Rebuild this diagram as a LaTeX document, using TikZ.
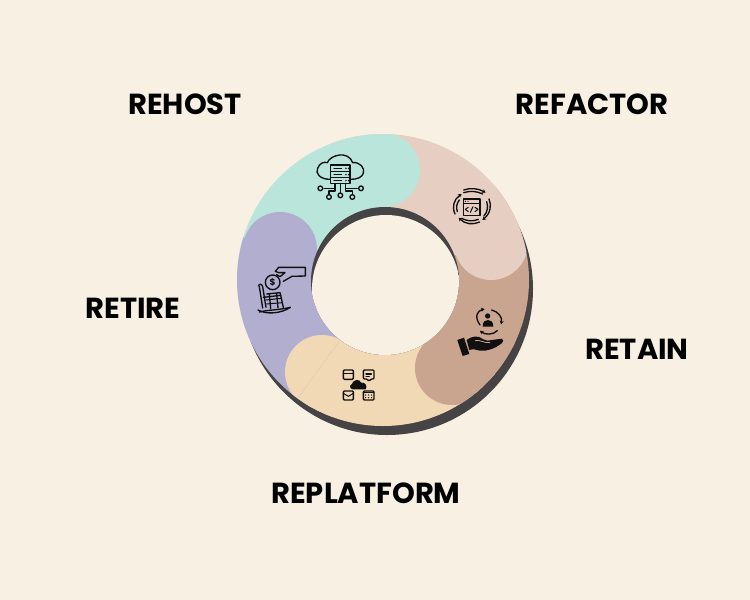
\documentclass[tikz,border=0pt]{standalone}
\usepackage{fontspec}
\setmainfont{Poppins}
\usetikzlibrary{arrows.meta}
\definecolor{bgc}{HTML}{F7F0E3}
\definecolor{tealc}{HTML}{BAE5DB}
\definecolor{creamc}{HTML}{E6CEC3}
\definecolor{brownc}{HTML}{C9A58F}
\definecolor{yellowc}{HTML}{F1D9B5}
\definecolor{lavc}{HTML}{B2AED0}
\definecolor{darkc}{HTML}{454343}
\definecolor{inkc}{HTML}{101010}
\tikzset{
  heading/.style={font=\fontsize{29}{33}\selectfont\bfseries,text=black,inner sep=0pt,anchor=center},
  icon/.style={draw=inkc,line width=1.35pt,line cap=round,line join=round,fill=none},
  iconthin/.style={draw=inkc,line width=1pt,line cap=round,line join=round,fill=none},
  tip/.style={-{Stealth[length=3.6pt,width=4pt]}},
}
\newcommand{\wedgefill}[4]{\fill[#1] (383,280) -- +(#2:300) -- +({#2+(#3-#2)/2}:300) -- +(#3:300) -- cycle;
  \fill[#1] (#4) circle (37);}
\begin{document}
\begin{tikzpicture}[x=1pt,y=-1pt]
\useasboundingbox (0,0) rectangle (750,600);
\fill[bgc] (0,0) rectangle (750,600);
% shadow disc
\fill[darkc] (387,289) circle (146);
% coloured ring
\begin{scope}
\clip (383,280) circle (146);
\wedgefill{brownc}{-40}{52}{452,368}
\wedgefill{creamc}{250}{341}{491,243}
\wedgefill{tealc}{180}{270}{383,170}
\wedgefill{lavc}{110}{197}{280,249}
\wedgefill{yellowc}{40}{123}{322,372}
\wedgefill{brownc}{25}{52}{452,368}
\end{scope}
% hole, with the shadow ring's inner edge showing
\begin{scope}
\clip (385,281) circle (74);
\fill[darkc] (385,281) circle (75);
\fill[bgc] (386,289) circle (74);
\end{scope}
% faint seam in the replatform band
\draw[line width=.4pt,draw=brownc!80!black,opacity=.55,densely dotted] (298,398) -- (340,340);

% labels
\node[heading] (rehost) at (185,104) {REHOST};
\node[heading] (refactor) at (592,104) {REFACTOR};
\node[heading] (retire) at (133,308) {RETIRE};
\node[heading] (retain) at (637,349) {RETAIN};
\node[heading] (replatform) at (366,493) {REPLATFORM};

% rehost icon
\begin{scope}[shift={(220,120)},x=.3333pt,y=-.3333pt]
\draw[icon] (330,178) .. controls (300,178) and (285,160) .. (293,145)
  .. controls (298,130) and (312,124) .. (322,128)
  .. controls (330,105) and (385,90) .. (398,128)
  .. controls (420,125) and (436,145) .. (430,160)
  .. controls (426,172) and (412,178) .. (392,178);
\draw[icon,fill=tealc] (332,135) rectangle (390,155);
\draw[icon,fill=tealc] (332,155) rectangle (390,173);
\draw[icon,fill=tealc] (332,173) rectangle (390,191);
\foreach \yy in {145,164,182}{
  \draw[iconthin] (342,\yy) -- (365,\yy);
  \fill[inkc] (378,\yy) circle (2.5) (386,\yy) circle (2.5);
}
\draw[icon] (312,205) -- (345,205) -- (345,191);
\draw[icon] (412,205) -- (377,205) -- (377,191);
\draw[icon] (327,222) -- (327,213) -- (345,213) -- (345,205);
\draw[icon] (397,222) -- (397,213) -- (377,213) -- (377,205);
\draw[icon] (361,191) -- (361,218);
\draw[icon] (301,205) circle (7) (423,205) circle (7) (327,231) circle (7) (361,226) circle (7) (397,231) circle (7);
\end{scope}

% refactor icon
\begin{scope}[shift={(380,120)},x=.3333pt,y=-.3333pt]
\draw[icon,fill=creamc] (250,237) rectangle (300,287);
\draw[iconthin] (250,250) -- (300,250);
\fill[inkc] (256,244) circle (2) (264,244) circle (2);
\draw[iconthin] (265,262) -- (256,268) -- (265,275);
\draw[iconthin] (285,262) -- (294,268) -- (285,275);
\draw[iconthin] (279,260) -- (271,277);
\draw[icon,tip] (251,210) .. controls (270,203) and (295,205) .. (317,218);
\draw[icon,tip] (327,237) .. controls (335,255) and (332,280) .. (307,300);
\draw[icon,tip] (299,306) .. controls (280,315) and (255,313) .. (236,293);
\draw[icon,tip] (225,282) .. controls (215,260) and (222,238) .. (245,222);
\draw[icon] (251,218) .. controls (270,212) and (290,213) .. (308,222);
\draw[icon] (320,245) .. controls (325,260) and (323,275) .. (312,288);
\draw[icon] (295,298) .. controls (278,305) and (262,304) .. (245,295);
\draw[icon] (232,275) .. controls (228,262) and (230,250) .. (238,240);
\end{scope}

% retain icon
\begin{scope}[shift={(400,280)},x=.3333pt,y=-.3333pt]
\fill[inkc] (263,108) circle (8);
\fill[inkc] (248,140) .. controls (248,125) and (255,120) .. (264,120) .. controls (273,120) and (280,125) .. (280,140) -- cycle;
\draw[icon,tip] (240,135) .. controls (222,110) and (232,92) .. (254,87);
\draw[icon,tip] (275,90) .. controls (295,95) and (308,112) .. (303,133);
\draw[icon,tip] (292,152) .. controls (280,165) and (255,165) .. (240,152);
\fill[inkc] (172,180) -- (192,173) -- (208,222) -- (188,228) -- cycle;
\fill[inkc] (200,180) .. controls (215,168) and (235,165) .. (250,178)
  -- (262,182) -- (305,176) .. controls (312,178) and (312,186) .. (305,190)
  .. controls (285,205) and (265,214) .. (240,212) .. controls (228,210) and (220,205) .. (208,210) -- cycle;
\draw[line width=.8pt,draw=brownc,line cap=round] (226,182) .. controls (240,178) and (252,190) .. (270,188);
\end{scope}

% replatform icon
\begin{scope}[shift={(270,320)},x=.3333pt,y=-.3333pt]
\draw[icon,rounded corners=1pt] (220,150) rectangle (250,178);
\draw[iconthin] (220,160) -- (250,160);
\draw[icon,rounded corners=1pt] (280,150) -- (312,150) -- (312,177) -- (303,177) -- (297,184) -- (291,177) -- (280,177) -- cycle;
\draw[iconthin] (288,159) -- (304,159) (288,165) -- (304,165) (288,171) -- (298,171);
\draw[icon,rounded corners=1pt] (220,213) rectangle (250,240);
\draw[iconthin] (220,220) -- (235,229) -- (250,220);
\draw[icon,rounded corners=1pt] (280,213) rectangle (312,240);
\draw[iconthin] (280,219) -- (312,219);
\foreach \xx in {287,296,305}{\foreach \yy in {225,233}{\fill[inkc] (\xx,\yy) circle (2.2);}}
\fill[inkc] (248,208) .. controls (238,206) and (238,195) .. (246,192)
  .. controls (248,180) and (268,174) .. (274,188)
  .. controls (285,186) and (294,198) .. (287,208) -- cycle;
\end{scope}

% retire icon
\begin{scope}[shift={(230,220)},x=.3333pt,y=-.3333pt]
\draw[icon] (136,154) -- (146,142) -- (226,142) -- (226,168) -- (186,169) -- (160,184);
\draw[icon] (136,154) -- (146,158) -- (165,158) -- (150,170) -- (140,164);
\draw[icon,fill=lavc] (128,187) circle (22);
\node[inner sep=0pt,text=inkc,font=\fontsize{9}{9}\selectfont\bfseries] (coin) at (128,187) {\$};
\draw[icon] (85,198) .. controls (88,190) and (96,192) .. (98,200) -- (108,262);
\draw[icon] (88,200) -- (98,264);
\draw[icon] (100,232) -- (152,226) -- (160,262);
\draw[icon] (110,222) -- (150,218) -- (152,226);
\draw[icon] (118,222) -- (122,266) (140,220) -- (144,264);
\draw[iconthin] (108,240) -- (155,235) (110,252) -- (157,248);
\draw[icon] (84,270) .. controls (110,285) and (155,280) .. (181,262);
\draw[icon] (88,276) .. controls (110,270) and (150,270) .. (181,262);
\end{scope}
\end{tikzpicture}
\end{document}
